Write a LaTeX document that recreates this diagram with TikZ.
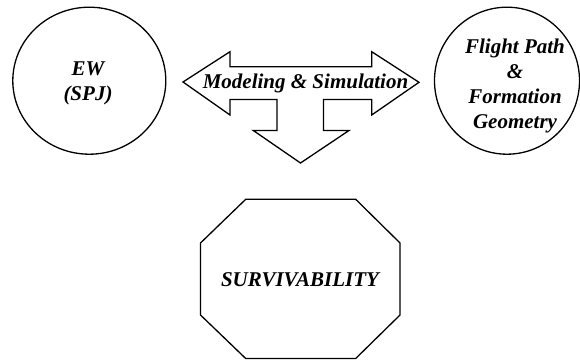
\documentclass[tikz,border=0pt]{standalone}
\usepackage{fontspec}
\setmainfont{Liberation Serif}
\begin{document}
\begin{tikzpicture}[x=1pt,y=-1pt,
  lbl/.style={font=\fontsize{21}{25}\selectfont\bfseries\itshape, align=center, inner sep=0pt},
  shp/.style={draw=black, line width=1.3pt, line join=miter}]
\useasboundingbox (0,0) rectangle (580,361);
\clip (0,0) rectangle (580,361);
% left circle
\draw[shp] (89.3,80.7) ellipse [x radius=76.5, y radius=73.5];
\node[lbl] (ew) at (88,83) {EW\\(SPJ)};
% right circle
\draw[shp] (507,80.7) ellipse [x radius=72.5, y radius=73.5];
\node[lbl] (fp) at (515,86) {Flight Path\\\&\\Formation\\Geometry};
% T arrow
\draw[shp] (183,82) -- (230,51.7) -- (230,66.7) -- (371.7,66.7) -- (371.7,51.7)
  -- (419,82.3) -- (371.7,115) -- (371.7,99.5) -- (323.5,99.5) -- (323.5,130.5)
  -- (349,130.5) -- (300.5,163) -- (253.3,130.5) -- (277,130.5) -- (277,99.5)
  -- (230,99.5) -- (230,115) -- cycle;
\node[lbl] (ms) at (305.5,83) {Modeling \& Simulation};
% octagon
\draw[shp] (245.7,199.3) -- (355.7,199.3) -- (400,243) -- (400,315) -- (355.7,358.5)
  -- (245.7,358.5) -- (200.5,315) -- (200.5,243) -- cycle;
\node[lbl] (sv) at (300,280) {SURVIVABILITY};
\end{tikzpicture}
\end{document}
